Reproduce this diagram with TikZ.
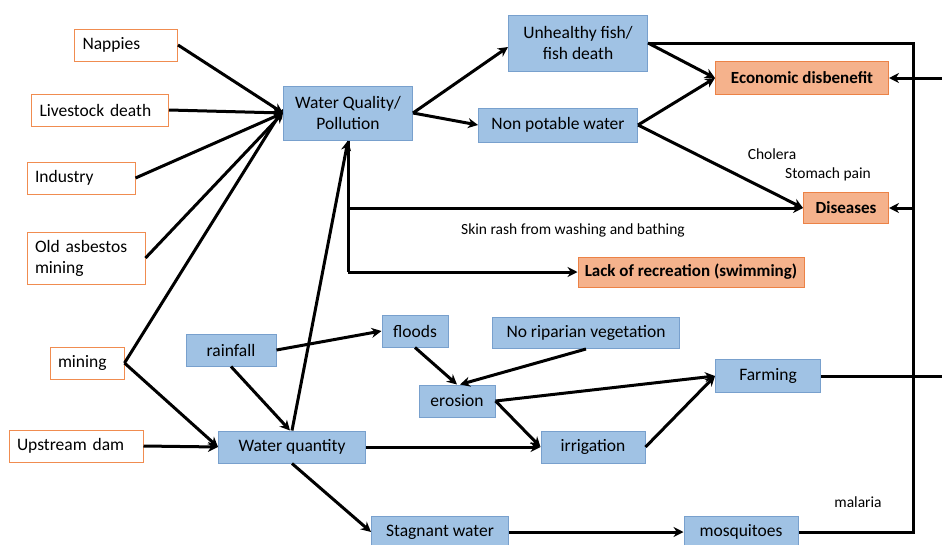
\documentclass[tikz,border=0pt]{standalone}
\usepackage{fontspec}
\setmainfont{Carlito}
\usepackage{xcolor}
\usepackage{tikz}
\usetikzlibrary{arrows.meta, positioning}
\definecolor{srcedge}{RGB}{240,140,80}
\definecolor{bluefill}{RGB}{160,194,228}
\definecolor{blueedge}{RGB}{120,160,205}
\definecolor{orangefill}{RGB}{245,178,140}
\definecolor{orangeedge}{RGB}{236,130,70}
\tikzstyle{arrow}  = [line width=3pt,-{Stealth[length=10pt,width=10pt]}]
\tikzstyle{link}   = [line width=3pt]
\tikzstyle{cause}  = [rectangle, draw=srcedge, line width=1pt, fill=white, align=left, inner xsep=8pt, minimum height=32pt, font=\fontsize{17.5}{21}\selectfont]
\tikzstyle{effect} = [rectangle, draw=blueedge, line width=1pt, fill=bluefill, align=center, minimum height=32pt, font=\fontsize{17.5}{21}\selectfont]
\tikzstyle{impact} = [rectangle, draw=orangeedge, line width=1pt, fill=orangefill, align=center, minimum height=31pt, font=\bfseries\fontsize{17}{20}\selectfont]
\tikzstyle{note}   = [font=\fontsize{15.5}{18}\selectfont]

\begin{document}
\begin{tikzpicture}[x=1pt, y=-1pt]
  \clip (0,0) rectangle (942,544);
  \fill[white] (0,0) rectangle (942,544);

  % Sources of pollution
  \node[cause, text width=87]  (nappies)   at (126,45)  {Nappies};
  \node[cause, text width=121] (livestock) at (100,110) {Livestock death};
  \node[cause, text width=92]  (industry)  at (81,178)  {Industry};
  \node[cause, text width=102, minimum height=52pt] (asbestos) at (86,258) {Old asbestos\\mining};
  \node[cause, text width=58]  (mining)    at (87,363)  {mining};
  \node[cause, text width=118] (dam)       at (76,446)  {Upstream dam};

  % Central boxes
  \node[effect, minimum width=129, minimum height=54pt] (quality) at (348,113) {Water Quality/\\Pollution};
  \node[effect, minimum width=147] (quantity) at (292,447) {Water quantity};
  \node[effect, minimum width=139, minimum height=56pt] (fish) at (578,43) {Unhealthy fish/\\fish death};
  \node[effect, minimum width=159, minimum height=34pt] (potable) at (558,125) {Non potable water};
  \node[effect, minimum width=90]  (rainfall) at (231,350) {rainfall};
  \node[effect, minimum width=66]  (floods)   at (415,331) {floods};
  \node[effect, minimum width=187, minimum height=31pt] (riparian) at (586,333) {No riparian vegetation};
  \node[effect, minimum width=76]  (erosion)  at (457,401) {erosion};
  \node[effect, minimum width=104] (irrigation) at (593,447) {irrigation};
  \node[effect, minimum width=105, minimum height=33pt] (farming) at (768,376) {Farming};
  \node[effect, minimum width=137, minimum height=31pt] (stagnant) at (440,532) {Stagnant water};
  \node[effect, minimum width=114, minimum height=31pt] (mosquitoes) at (741,532) {mosquitoes};

  % Outcomes
  \node[impact, minimum width=173, minimum height=33pt] (economic) at (802,78) {Economic disbenefit};
  \node[impact, minimum width=85]  (diseases) at (846,208) {Diseases};
  \node[impact, minimum width=226, minimum height=30pt] (recreation) at (691,272) {Lack of recreation (swimming)};

  % Labels
  \node[note] (cholera) at (772,154) {Cholera};
  \node[note] (stomach) at (828,174) {Stomach pain};
  \node[note] (skin)    at (573,230) {Skin rash from washing and bathing};
  \node[note] (malaria) at (858,502) {malaria};

  % Helper points
  \coordinate (rail top) at (913,43);
  \coordinate (rail low) at (913,532);
  \coordinate (rail dis) at (913,208);
  \coordinate (edge econ) at (942,78);
  \coordinate (edge farm) at (942,376);
  \coordinate (split a) at (348,208);
  \coordinate (split b) at (348,272);

  % Into water quality
  \draw[arrow] (nappies.east)   -- (quality.west);
  \draw[arrow] (livestock.east) -- (quality.west);
  \draw[arrow] (industry.east)  -- (quality.west);
  \draw[arrow] (asbestos.east)  -- (quality.west);
  \draw[arrow] (mining.east)    -- ([yshift=4pt]quality.west);
  \draw[arrow] (quantity.north) -- (quality.south);

  % Into water quantity
  \draw[arrow] (mining.east)     -- (quantity.west);
  \draw[arrow] (dam.east)        -- (quantity.west);
  \draw[arrow] (rainfall.south)  -- ([xshift=-2pt]quantity.north);
  \draw[arrow] (rainfall.east)   -- (floods.west);

  % Water quality effects
  \draw[arrow] (quality.east) -- ([yshift=-4pt]fish.west);
  \draw[arrow] (quality.east) -- (potable.west);
  \draw[arrow] (fish.east)    -- (economic.west);
  \draw[arrow] (potable.east) -- (economic.west);
  \draw[arrow] (potable.east) -- (diseases.west);
  \draw[link]  (quality.south) -- (split b);
  \draw[arrow] (split a) -- (diseases.west);
  \draw[arrow] (split b) -- (recreation.west);

  % Erosion and farming
  \draw[arrow] (floods.south)   -- (erosion.north);
  \draw[arrow] (riparian.south) -- ([xshift=3pt]erosion.north);
  \draw[arrow] (erosion.east)   -- (farming.west);
  \draw[arrow] (erosion.east)   -- (irrigation.west);
  \draw[arrow] (quantity.east)  -- (irrigation.west);
  \draw[arrow] (irrigation.east) -- (farming.west);
  \draw[link]  (farming.east)   -- (edge farm);

  % Stagnant water chain
  \draw[arrow] (quantity.south) -- (stagnant.west);
  \draw[arrow] (stagnant.east)  -- (mosquitoes.west);

  % Right rail
  \draw[link]  (fish.east) -- (rail top) -- (rail low) -- (mosquitoes.east);
  \draw[arrow] (edge econ) -- (economic.east);
  \draw[arrow] (rail dis)  -- (diseases.east);
\end{tikzpicture}
\end{document}
